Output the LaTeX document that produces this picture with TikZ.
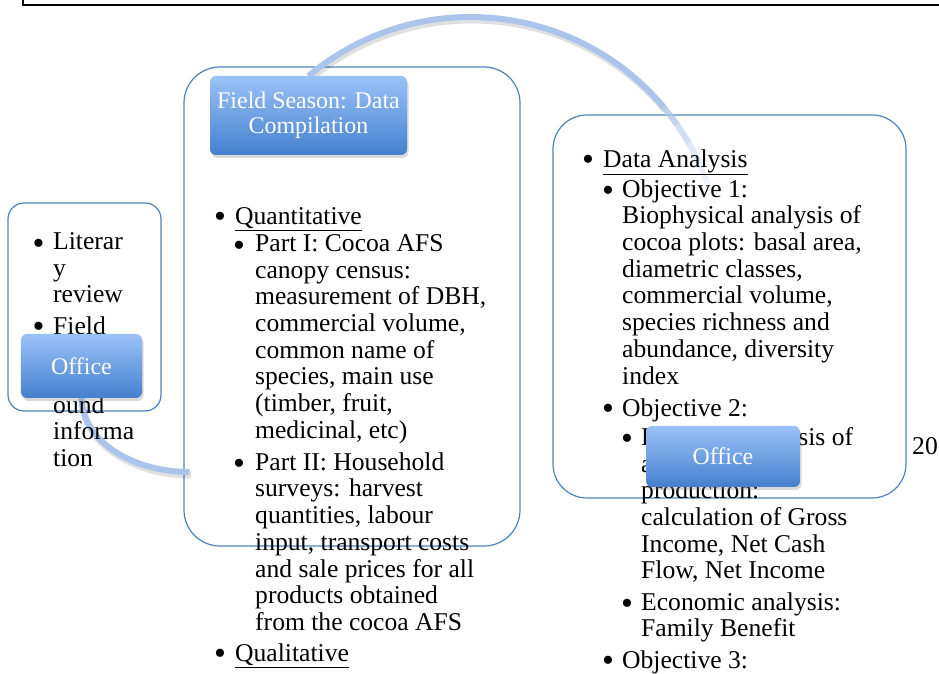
\documentclass[tikz,border=0pt]{standalone}
\usepackage{fontspec}
\setmainfont{Liberation Serif}
\usetikzlibrary{shadows}
\definecolor{boxblue}{RGB}{79,129,189}
\definecolor{tabtop}{RGB}{155,194,248}
\definecolor{tabbot}{RGB}{68,128,206}
\definecolor{arcblue}{RGB}{172,196,236}

\begin{document}
\begin{tikzpicture}[x=1bp, y=1bp,
    box/.style={draw=boxblue, line width=1.2bp, inner sep=0pt},
    tab/.style={rounded corners=6bp, top color=tabtop, bottom color=tabbot, text=white,
        align=center, font=\fontsize{24}{25}\selectfont,
        drop shadow={opacity=0.3, shadow xshift=1.5bp, shadow yshift=-3bp}},
    txt/.style={anchor=north west, inner sep=0pt, yshift=18.76bp, align=left,
        font=\fontsize{25.7}{26.8}\selectfont, execute at begin node={\rule{0pt}{18.76bp}}},
    bul/.style={anchor=base, inner sep=0pt, yshift=-3.5bp, font=\fontsize{34}{34}\selectfont},
    num/.style={anchor=base west, inner sep=0pt, font=\fontsize{25.7}{26.8}\selectfont},
    arcline/.style={arcblue, line width=6bp},
    arcshade/.style={black, opacity=0.12, line width=7bp}]
    \useasboundingbox (0,0) rectangle (939,674);

    % Slide frame
    \draw[line width=1.2bp] (23,690) |- (950,669);

    % Boxes
    \node[box, minimum width=153bp, minimum height=208bp, rounded corners=16bp] (lbox) at (84.5,367) {};
    \node[box, minimum width=336bp, minimum height=479bp, rounded corners=36bp] (fbox) at (352,367.5) {};
    \node[box, minimum width=353bp, minimum height=383bp, rounded corners=34bp] (rbox) at (729.5,367.5) {};

    % Tab positions
    \coordinate (lt) at (81.5,308);
    \coordinate (ft) at (308.5,558.5);
    \coordinate (rt) at (723,217.5);

    % Arcs
    \draw[arcshade] ([shift={(1.5,-3)}]81.5,276) arc[start angle=180, end angle=270, x radius=108, y radius=74];
    \draw[arcline] (81.5,276) arc[start angle=180, end angle=270, x radius=108, y radius=74];
    \path (308.5,598) ++(-50:252) coordinate (c2);
    \draw[arcshade] ([shift={(1.5,-3)}]308.5,598) arc[start angle=130, end angle=40, radius=252];
    \draw[arcline] (308.5,598) arc[start angle=130, end angle=40, radius=252];
    \foreach \a/\op in {40/0.75, 35/0.55, 30/0.38, 25/0.22, 20/0.1} {
        \draw[arcline, opacity=\op] ([shift={(\a:252)}]c2) arc[start angle=\a, end angle=\a-5, radius=252];
    }

    % Left box text
    \node[bul] (lb1) at (38.5,423) {\makebox[8bp]{\textbullet}};
    \node[txt] (lt1) at (53,423) {Literar\\y\\review};
    \node[bul] (lb2) at (38.5,340) {\makebox[8bp]{\textbullet}};
    \node[txt] (lt2) at (53,340) {Field};
    \node[txt] (lt3) at (53,260) {ound\\informa\\tion};

    % Field season text
    \node[bul] (fb1) at (220,450) {\makebox[8bp]{\textbullet}};
    \node[txt] (ft1) at (235,450) {\underline{Quantitative}};
    \node[bul] (fb2) at (239,421) {\makebox[8bp]{\textbullet}};
    \node[txt] (ft2) at (255,421) {Part I: Cocoa AFS\\canopy census:\\measurement of DBH,\\commercial volume,\\common name of\\species, main use\\(timber, fruit,\\medicinal, etc)};
    \node[bul] (fb3) at (239,203) {\makebox[8bp]{\textbullet}};
    \node[txt] (ft3) at (255,203) {Part II: Household\\surveys: harvest\\quantities, labour\\input, transport costs\\and sale prices for all\\products obtained\\from the cocoa AFS};
    \node[bul] (fb4) at (220,13) {\makebox[8bp]{\textbullet}};
    \node[txt] (ft4) at (235,13) {\underline{Qualitative}};

    % Data analysis text
    \node[bul] (rb1) at (588,507) {\makebox[8bp]{\textbullet}};
    \node[txt] (rt1) at (603,507) {\underline{Data Analysis}};
    \node[bul] (rb2) at (608,476) {\makebox[8bp]{\textbullet}};
    \node[txt] (rt2) at (622,476) {Objective 1:\\Biophysical analysis of\\cocoa plots: basal area,\\diametric classes,\\commercial volume,\\species richness and\\abundance, diversity\\index};
    \node[bul] (rb3) at (608,258) {\makebox[8bp]{\textbullet}};
    \node[txt] (rt3) at (622,258) {Objective 2:};
    \node[bul] (rb4) at (627,228) {\makebox[8bp]{\textbullet}};
    \node[txt] (rt4) at (641,228) {Financial analysis of\\agroforestry\\production:\\calculation of Gross\\Income, Net Cash\\Flow, Net Income};
    \node[bul] (rb5) at (627,63) {\makebox[8bp]{\textbullet}};
    \node[txt] (rt5) at (641,63) {Economic analysis:\\Family Benefit};
    \node[bul] (rb6) at (608,6) {\makebox[8bp]{\textbullet}};
    \node[txt] (rt6) at (622,6) {Objective 3:};

    % Tabs
    \node[tab, minimum width=121bp, minimum height=64bp] (ltab) at (lt) {Office};
    \node[tab, minimum width=197bp, minimum height=79bp] (ftab) at (ft) {Field Season: Data\\Compilation};
    \node[tab, minimum width=154bp, minimum height=61bp] (rtab) at (rt) {Office};

    % Slide number
    \node[num] (pnum) at (912,219) {20};
\end{tikzpicture}
\end{document}
